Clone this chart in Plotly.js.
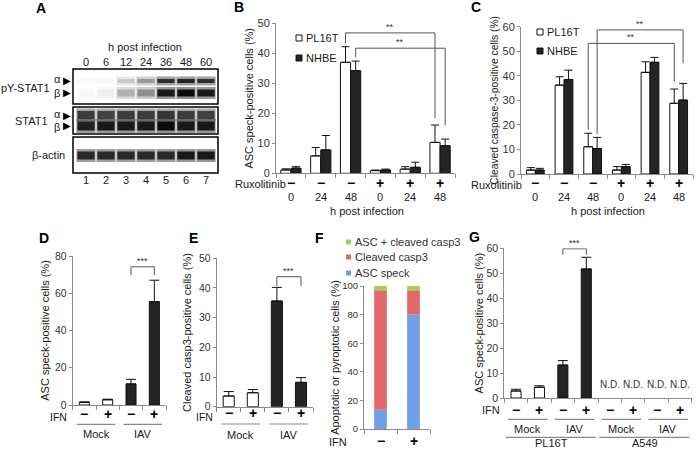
<!DOCTYPE html>
<html>
<head>
<meta charset="utf-8">
<script src="https://cdn.plot.ly/plotly-3.0.1.min.js"></script>
<style>html,body{margin:0;padding:0;background:#ffffff;}#chart{width:696px;height:451px;}</style>
</head>
<body>
<div id="chart"></div>
<script>
// ================= DATA =================
// Panel A – western blot, relative band intensity (0–1) per lane
const laneNumbers = [1, 2, 3, 4, 5, 6, 7];
const laneHours = ['0', '6', '12', '24', '36', '48', '60'];
const pySTAT1Alpha = [0, 0, 0.2, 0.4, 0.85, 0.9, 0.85];
const pySTAT1Beta = [0, 0.04, 0.3, 0.45, 0.95, 1.0, 0.95];
const stat1Alpha = [0.8, 0.78, 0.8, 0.8, 0.82, 0.8, 0.78];
const stat1Beta = [0.92, 0.95, 0.95, 0.95, 1.0, 0.95, 0.95];
const actinBand = [0.88, 0.88, 0.88, 0.88, 0.88, 0.95, 0.95];

// Panels B & C
const hoursBC = ['0', '24', '48', '0', '24', '48'];
const ruxBC = ['−', '−', '−', '+', '+', '+'];
const bPL16T = [1.1, 5.8, 37.0, 0.9, 1.4, 10.3];
const bPL16TErr = [0.4, 2.8, 5.2, 0.2, 0.8, 5.8];
const bNHBE = [1.7, 7.8, 34.2, 1.1, 2.0, 9.2];
const bNHBEErr = [0.5, 4.8, 3.2, 0.3, 1.7, 2.2];
const cPL16T = [1.6, 36.2, 11.1, 1.6, 41.4, 28.8];
const cPL16TErr = [1.0, 3.4, 5.5, 1.4, 4.3, 5.8];
const cNHBE = [1.6, 38.5, 10.4, 3.0, 45.5, 30.1];
const cNHBEErr = [0.7, 3.8, 4.5, 0.9, 2.0, 6.8];

// Panels D & E
const ifnDE = ['−', '+', '−', '+'];
const infectionDE = ['Mock', 'Mock', 'IAV', 'IAV'];
const dASC = [1.4, 2.8, 11.3, 55.5];
const dASCErr = [0.3, 0.3, 2.5, 11.5];
const eCasp3 = [3.6, 4.7, 35.6, 8.2];
const eCasp3Err = [1.5, 1.1, 4.6, 1.6];

// Panel F
const ifnF = ['−', '+'];
const fASCSpeck = [13.5, 80.0];
const fCleavedCasp3 = [83.5, 17.0];
const fBoth = [3.0, 3.0];

// Panel G
const ifnG = ['−', '+', '−', '+', '−', '+', '−', '+'];
const infectionG = ['Mock', 'Mock', 'IAV', 'IAV', 'Mock', 'Mock', 'IAV', 'IAV'];
const cellG = ['PL16T', 'PL16T', 'PL16T', 'PL16T', 'A549', 'A549', 'A549', 'A549'];
const gASC = [2.8, 4.3, 13.2, 51.7, null, null, null, null];
const gASCErr = [0.7, 0.6, 1.8, 4.7, null, null, null, null];

// Significance brackets (category from/to, bracket level, leg end levels)
const bBrackets = [
  {series: 'PL16T', from: 2, to: 5, level: 46.8, ends: [43.4, 18.4], label: '**'},
  {series: 'NHBE', from: 2, to: 5, level: 41.7, ends: [38.7, 16.0], label: '**'}
];
const cBrackets = [
  {series: 'PL16T', from: 2, to: 5, level: 53.2, ends: [18.0, 37.6], label: '**'},
  {series: 'NHBE', from: 2, to: 5, level: 58.7, ends: [16.3, 45.1], label: '**'}
];
const dBrackets = [{from: 2, to: 3, level: 74.2, ends: [69.8, 69.8], label: '***'}];
const eBrackets = [{from: 2, to: 3, level: 43.8, ends: [40.7, 40.7], label: '***'}];
const gBrackets = [{from: 2, to: 3, level: 59.8, ends: [57.4, 57.4], label: '***'}];

// ================= HELPERS =================
const W = 696, H = 451;
const px = v => v / W;
const py = v => 1 - v / H;
const FONT = 'Liberation Sans, Arial, sans-serif';
const TXT = '#1a1a1a';
const AXC = '#8a8a8a';
const DARK = '#242424';
const BRK = '#555555';
const SIGN = 14;

const shapes = [];
const annotations = [];
const traces = [];

function txt(text, x, y, opt) {
  opt = opt || {};
  annotations.push(Object.assign({
    text: text, x: x, y: y, xref: 'paper', yref: 'paper',
    xanchor: 'center', yanchor: 'middle', showarrow: false,
    font: {family: FONT, size: opt.size || 11, color: opt.color || TXT}
  }, opt.extra || {}));
}
function ptxt(text, xp, yp, opt) { txt(text, px(xp), py(yp), opt); }
function dtxt(text, xref, x, yp, opt) {
  opt = opt || {};
  annotations.push({
    text: text, x: x, y: py(yp), xref: xref, yref: 'paper',
    xanchor: opt.xanchor || 'center', yanchor: opt.yanchor || 'middle', showarrow: false,
    font: {family: FONT, size: opt.size || 11, color: opt.color || TXT}
  });
}
function letter(l, xp, yp) {
  ptxt('<b>' + l + '</b>', xp, yp, {size: 14, color: '#000'});
}
function errY(arr, w) {
  return {type: 'data', array: arr, arrayminus: arr.map(() => 0), symmetric: false,
          color: '#111', thickness: 1, width: w, visible: true};
}
function yAx(bottomPx, topPx, range, dtick, anchor, title, tsize, standoff, tickSize) {
  return {
    domain: [py(bottomPx), py(topPx)], range: range, dtick: dtick, tick0: 0, anchor: anchor,
    showline: true, linecolor: AXC, linewidth: 1, ticks: 'outside', ticklen: 3, tickcolor: AXC,
    showgrid: false, zeroline: false, fixedrange: true,
    tickfont: {family: FONT, size: tickSize, color: '#333'},
    title: {text: title, font: {family: FONT, size: tsize, color: TXT}, standoff: standoff}
  };
}
function xAx(leftPx, rightPx, nCat, anchor) {
  const tv = [];
  for (let i = 0; i <= nCat; i++) tv.push(i - 0.5);
  return {
    domain: [px(leftPx), px(rightPx)], range: [-0.5, nCat - 0.5], anchor: anchor,
    showline: true, linecolor: AXC, linewidth: 1, ticks: 'outside', ticklen: 4, tickcolor: AXC,
    tickvals: tv, showticklabels: false, showgrid: false, zeroline: false, fixedrange: true
  };
}
function bracket(xa, ya, x0, x1, b) {
  shapes.push({type: 'path', xref: xa, yref: ya,
    path: 'M' + x0 + ',' + b.ends[0] + 'L' + x0 + ',' + b.level + 'L' + x1 + ',' + b.level + 'L' + x1 + ',' + b.ends[1],
    line: {color: BRK, width: 1}});
  annotations.push({text: b.label, xref: xa, yref: ya, x: (x0 + x1) / 2, y: b.level,
    yanchor: 'bottom', yshift: -1, showarrow: false, font: {family: FONT, size: 9, color: '#333'}});
}
function runs(arr) {
  const out = [];
  arr.forEach((v, i) => {
    if (out.length && out[out.length - 1].label === v) out[out.length - 1].end = i;
    else out.push({label: v, start: i, end: i});
  });
  return out;
}
function grey(intensity) {
  const g = Math.round(248 - 236 * intensity);
  return 'rgb(' + g + ',' + g + ',' + g + ')';
}
function legendSquare(x0, y0, size, fill) {
  shapes.push({type: 'rect', xref: 'paper', yref: 'paper', x0: px(x0), x1: px(x0 + size),
    y0: py(y0 + size), y1: py(y0), fillcolor: fill, line: {color: '#111', width: 1}});
}

// ================= PANEL A (blot) =================
const blotRows = [
  {vals: pySTAT1Alpha, top: 10, h: 4},
  {vals: pySTAT1Beta, top: 20.5, h: 7},
  {vals: stat1Alpha, top: 42, h: 8},
  {vals: stat1Beta, top: 52.5, h: 9},
  {vals: actinBand, top: 82.5, h: 8}
];
blotRows.forEach(r => {
  traces.push({type: 'bar', x: laneNumbers, y: r.vals.map(() => r.h + 5), base: r.vals.map(() => r.top - 2.5),
    width: 0.96, xaxis: 'x', yaxis: 'y', hoverinfo: 'skip',
    marker: {color: r.vals.map(grey), opacity: 0.45, line: {width: 0}}});
  traces.push({type: 'bar', x: laneNumbers, y: r.vals.map(() => r.h), base: r.vals.map(() => r.top),
    width: 0.86, xaxis: 'x', yaxis: 'y', hoverinfo: 'skip',
    marker: {color: r.vals.map(grey), line: {width: 0}}});
});
[[69, 104], [107, 134], [137, 173]].forEach(b => {
  shapes.push({type: 'rect', xref: 'paper', yref: 'paper', x0: px(73), x1: px(218), y0: py(b[1]), y1: py(b[0]),
    line: {color: '#000', width: 1.5}});
});
letter('A', 41, 8);
ptxt('h post infection', 145, 47);
ptxt('pY-STAT1', 52, 88, {extra: {xanchor: 'right'}});
ptxt('α', 57, 79); ptxt('β', 57, 93);
ptxt('▶', 67, 81, {size: 10, color: '#000'}); ptxt('▶', 67, 93, {size: 10, color: '#000'});
ptxt('STAT1', 50, 121, {extra: {xanchor: 'right'}});
ptxt('α', 57, 114); ptxt('β', 57, 127);
ptxt('▶', 67, 115, {size: 10, color: '#000'}); ptxt('▶', 67, 126, {size: 10, color: '#000'});
ptxt('β-actin', 67, 155, {extra: {xanchor: 'right'}});
laneNumbers.forEach(n => dtxt(String(n), 'x', n, 180));

// ================= PANEL B =================
const catBC = hoursBC.map((_, i) => i);
const wB = 0.34;
traces.push({type: 'bar', name: 'PL16T', x: catBC, y: bPL16T, xaxis: 'x2', yaxis: 'y2', width: wB, offset: -wB,
  marker: {color: '#ffffff', line: {color: '#111', width: 1}}, error_y: errY(bPL16TErr, 4)});
traces.push({type: 'bar', name: 'NHBE', x: catBC, y: bNHBE, xaxis: 'x2', yaxis: 'y2', width: wB, offset: 0,
  marker: {color: DARK, line: {color: '#111', width: 1}}, error_y: errY(bNHBEErr, 4)});
bBrackets.forEach(b => {
  const off = b.series === 'PL16T' ? -wB / 2 : wB / 2;
  bracket('x2', 'y2', b.from + off, b.to + off, b);
});
letter('B', 239, 7);
legendSquare(296, 35, 6, '#ffffff'); ptxt('PL16T', 304, 38, {extra: {xanchor: 'left'}});
legendSquare(296, 55, 6, DARK); ptxt('NHBE', 304, 58, {extra: {xanchor: 'left'}});
ptxt('Ruxolitinib', 288, 184, {extra: {xanchor: 'right'}});
ruxBC.forEach((s, i) => dtxt('<b>' + s + '</b>', 'x2', i, 183, {size: SIGN, color: '#000'}));
hoursBC.forEach((h, i) => dtxt(h, 'x2', i, 197));
ptxt('h post infection', 367, 211);

// ================= PANEL C =================
const wC = 0.31;
traces.push({type: 'bar', name: 'PL16T', x: catBC, y: cPL16T, xaxis: 'x3', yaxis: 'y3', width: wC, offset: -wC,
  marker: {color: '#ffffff', line: {color: '#111', width: 1}}, error_y: errY(cPL16TErr, 4)});
traces.push({type: 'bar', name: 'NHBE', x: catBC, y: cNHBE, xaxis: 'x3', yaxis: 'y3', width: wC, offset: 0,
  marker: {color: DARK, line: {color: '#111', width: 1}}, error_y: errY(cNHBEErr, 4)});
cBrackets.forEach(b => {
  const off = b.series === 'PL16T' ? -wC / 2 : wC / 2;
  bracket('x3', 'y3', b.from + off, b.to + off, b);
});
letter('C', 476, 7);
legendSquare(537, 29, 6, '#ffffff'); ptxt('PL16T', 545, 32, {extra: {xanchor: 'left'}});
legendSquare(537, 48, 6, DARK); ptxt('NHBE', 545, 51, {extra: {xanchor: 'left'}});
ptxt('Ruxolitinib', 524, 185, {extra: {xanchor: 'right'}});
ruxBC.forEach((s, i) => dtxt('<b>' + s + '</b>', 'x3', i, 183, {size: SIGN, color: '#000'}));
hoursBC.forEach((h, i) => dtxt(h, 'x3', i, 197));
ptxt('h post infection', 608, 211);

// ================= PANEL D =================
const catDE = ifnDE.map((_, i) => i);
const colDE = infectionDE.map(g => g === 'Mock' ? '#ffffff' : DARK);
traces.push({type: 'bar', x: catDE, y: dASC, xaxis: 'x4', yaxis: 'y4', width: 0.43,
  marker: {color: colDE, line: {color: '#111', width: 1}}, error_y: errY(dASCErr, 5)});
dBrackets.forEach(b => bracket('x4', 'y4', b.from, b.to, b));
letter('D', 44, 238);
ptxt('IFN', 69, 416.5, {size: 10.5, extra: {xanchor: 'right'}});
ifnDE.forEach((s, i) => dtxt('<b>' + s + '</b>', 'x4', i, 414, {size: SIGN, color: '#000'}));
runs(infectionDE).forEach(r => {
  shapes.push({type: 'line', xref: 'x4', yref: 'paper', x0: r.start - 0.32, x1: r.end + 0.32,
    y0: py(424.3), y1: py(424.3), line: {color: AXC, width: 1.2}});
  dtxt(r.label, 'x4', (r.start + r.end) / 2, 434);
});

// ================= PANEL E =================
traces.push({type: 'bar', x: catDE, y: eCasp3, xaxis: 'x5', yaxis: 'y5', width: 0.46,
  marker: {color: colDE, line: {color: '#111', width: 1}}, error_y: errY(eCasp3Err, 5)});
eBrackets.forEach(b => bracket('x5', 'y5', b.from, b.to, b));
letter('E', 193, 238);
ptxt('IFN', 215, 417, {size: 10.5, extra: {xanchor: 'right'}});
ifnDE.forEach((s, i) => dtxt('<b>' + s + '</b>', 'x5', i, 413, {size: SIGN, color: '#000'}));
runs(infectionDE).forEach(r => {
  shapes.push({type: 'line', xref: 'x5', yref: 'paper', x0: r.start - 0.3, x1: r.end + 0.3,
    y0: py(424), y1: py(424), line: {color: AXC, width: 1.2}});
  dtxt(r.label, 'x5', (r.start + r.end) / 2, 435);
});

// ================= PANEL F =================
const catF = ifnF.map((_, i) => i);
const wF = 0.385;
const baseCasp = fASCSpeck.slice();
const baseBoth = fASCSpeck.map((v, i) => v + fCleavedCasp3[i]);
traces.push({type: 'bar', name: 'ASC speck', x: catF, y: fASCSpeck, base: catF.map(() => 0), xaxis: 'x6', yaxis: 'y6',
  width: wF, marker: {color: '#6fa0e6', line: {width: 0}}});
traces.push({type: 'bar', name: 'Cleaved casp3', x: catF, y: fCleavedCasp3, base: baseCasp, xaxis: 'x6', yaxis: 'y6',
  width: wF, marker: {color: '#e26a6a', line: {width: 0}}});
traces.push({type: 'bar', name: 'ASC + cleaved casp3', x: catF, y: fBoth, base: baseBoth, xaxis: 'x6', yaxis: 'y6',
  width: wF, marker: {color: '#9fd25a', line: {width: 0}}});
letter('F', 319, 238);
[['ASC + cleaved casp3', '#9fd25a', 242], ['Cleaved casp3', '#e26a6a', 257], ['ASC speck', '#6fa0e6', 273]].forEach(l => {
  shapes.push({type: 'rect', xref: 'paper', yref: 'paper', x0: px(346), x1: px(351), y0: py(l[2] + 2.5), y1: py(l[2] - 2.5),
    fillcolor: l[1], line: {width: 0}});
  ptxt(l[0], 353, l[2], {color: '#333', extra: {xanchor: 'left'}});
});
ptxt('IFN', 349, 451, {extra: {xanchor: 'right', yanchor: 'bottom', yshift: 1}});
ifnF.forEach((s, i) => dtxt('<b>' + s + '</b>', 'x6', i, 451, {size: SIGN, color: '#000', yanchor: 'bottom'}));

// ================= PANEL G =================
const catG = ifnG.map((_, i) => i);
const colG = infectionG.map(g => g === 'Mock' ? '#ffffff' : DARK);
traces.push({type: 'bar', x: catG, y: gASC, xaxis: 'x7', yaxis: 'y7', width: 0.43,
  marker: {color: colG, line: {color: '#111', width: 1}}, error_y: errY(gASCErr, 5)});
gBrackets.forEach(b => bracket('x7', 'y7', b.from, b.to, b));
gASC.forEach((v, i) => {
  if (v === null) annotations.push({text: 'N.D.', xref: 'x7', yref: 'y7', x: i, y: 5.5, showarrow: false,
    font: {family: FONT, size: 10, color: '#333'}});
});
letter('G', 474, 237);
ptxt('IFN', 502, 410, {extra: {xanchor: 'right'}});
ifnG.forEach((s, i) => dtxt('<b>' + s + '</b>', 'x7', i, 410, {size: SIGN, color: '#000'}));
const infRunsG = runs(infectionG.map((g, i) => cellG[i] + '|' + g));
infRunsG.forEach(r => {
  shapes.push({type: 'line', xref: 'x7', yref: 'paper', x0: r.start - 0.35, x1: r.end + 0.35,
    y0: py(419.3), y1: py(419.3), line: {color: AXC, width: 1.2}});
  dtxt(r.label.split('|')[1], 'x7', (r.start + r.end) / 2, 428.5);
});
runs(cellG).forEach(r => {
  shapes.push({type: 'line', xref: 'x7', yref: 'paper', x0: r.start - 0.45, x1: r.end + 0.4,
    y0: py(437.3), y1: py(437.3), line: {color: AXC, width: 1.2}});
  dtxt(r.label, 'x7', (r.start + r.end) / 2, 451, {yanchor: 'bottom'});
});

// ================= LAYOUT =================
const layout = {
  width: W, height: H, margin: {l: 0, r: 0, t: 0, b: 0, pad: 0},
  paper_bgcolor: '#ffffff', plot_bgcolor: 'rgba(0,0,0,0)',
  barmode: 'overlay', showlegend: false,
  font: {family: FONT, size: 11, color: TXT},
  xaxis: {domain: [px(73), px(218)], range: [0.35, 7.6], anchor: 'y', side: 'top',
    tickvals: laneNumbers, ticktext: laneHours, ticks: '', showline: false, showgrid: false, zeroline: false,
    tickfont: {family: FONT, size: 11, color: TXT}, fixedrange: true},
  yaxis: {domain: [py(173), py(69)], range: [104, 0], anchor: 'x', visible: false, fixedrange: true},
  xaxis2: xAx(276, 455, 6, 'y2'),
  yaxis2: yAx(173.3, 23.3, [0, 50], 10, 'x2', 'ASC speck-positive cells (%)', 11, 1, 11),
  xaxis3: xAx(521, 693, 6, 'y3'),
  yaxis3: yAx(174, 26.7, [0, 60], 10, 'x3', 'Cleaved caspase-3-positive cells (%)', 10.3, 1, 11),
  xaxis4: xAx(72.7, 166, 4, 'y4'),
  yaxis4: yAx(405, 256, [0, 80], 20, 'x4', 'ASC speck-positive cells (%)', 11, 3, 10.5),
  xaxis5: xAx(216.7, 313, 4, 'y5'),
  yaxis5: yAx(406.7, 258.3, [0, 50], 10, 'x5', 'Cleaved casp3-positive cells (%)', 11, 5, 10.5),
  xaxis6: xAx(364, 430, 2, 'y6'),
  yaxis6: yAx(429, 286, [0, 100], 20, 'x6', 'Apoptotic or pyroptotic cells (%)', 11, 0, 9.5),
  xaxis7: xAx(504.3, 691.7, 8, 'y7'),
  yaxis7: yAx(398, 248.3, [0, 60], 10, 'x7', 'ASC speck-positive cells (%)', 11, 0, 10.5),
  shapes: shapes,
  annotations: annotations
};

Plotly.newPlot('chart', traces, layout, {displayModeBar: false, staticPlot: true});
</script>
</body>
</html>
